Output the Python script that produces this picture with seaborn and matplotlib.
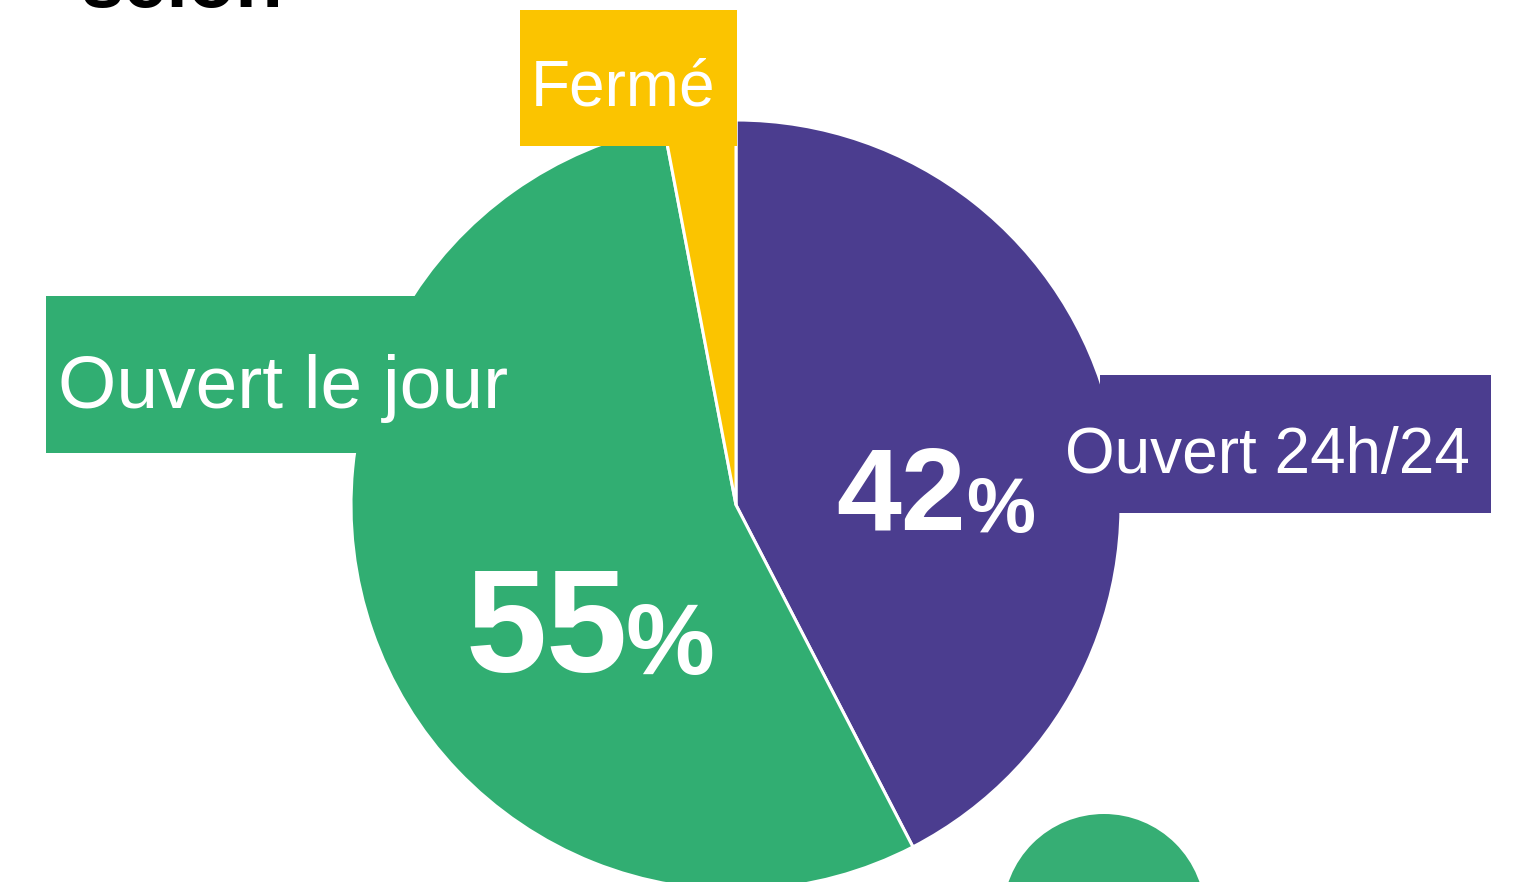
import matplotlib
matplotlib.use("Agg")
import matplotlib.pyplot as plt
from matplotlib.patches import Rectangle, Circle
import seaborn as sns

# data
categories = ["Ouvert 24h/24", "Ouvert le jour", "Fermé"]
shares = [42.4, 54.6, 3.0]
pct_labels = ["42", "55", None]
colors = ["#4B3D8F", "#31AE72", "#FBC400"]
title_text = "selon"

sns.set_theme(style="white")
plt.rcParams["font.family"] = ["Liberation Sans", "DejaVu Sans"]

W, H = 1518, 882
fig = plt.figure(figsize=(W / 100, H / 100), dpi=100)
ax = fig.add_axes([0, 0, 1, 1])

# pie in pixel-like coordinates (y axis flipped, so counterclock here is clockwise on screen)
ax.pie(shares, colors=colors, center=(736, 505), radius=385, startangle=-90,
       counterclock=True,
       wedgeprops=dict(edgecolor="white", linewidth=2.2), frame=True)
ax.set_xlim(0, W)
ax.set_ylim(H, 0)
ax.set_aspect("equal")
ax.axis("off")

# category label boxes
boxes = {
    "Ouvert 24h/24": (1100, 375, 391, 138, 1065, 473, 46),
    "Ouvert le jour": (46, 296, 480, 157, 58, 408, 54),
    "Fermé": (520, 10, 217, 136, 531, 106, 46),
}
for cat, col in zip(categories, colors):
    x0, y0, bw, bh, tx, ty, fs = boxes[cat]
    ax.add_patch(Rectangle((x0, y0), bw, bh, facecolor=col, edgecolor="none", zorder=5))
    ax.text(tx, ty, cat, color="white", fontsize=fs, ha="left", va="baseline", zorder=6)

# big percentages
pct_pos = {"42": (836, 530, 84, 966, 56), "55": (466, 672, 105, 626, 72)}
for lab in pct_labels:
    if lab is None:
        continue
    x, y, fs, px, pfs = pct_pos[lab]
    ax.text(x, y, lab, color="white", fontsize=fs, fontweight="bold",
            ha="left", va="baseline", zorder=7)
    ax.text(px, y + 2, "%", color="white", fontsize=pfs, fontweight="bold",
            ha="left", va="baseline", zorder=7)

# cut-off title and decorative circle
ax.text(80, 7, title_text, color="black", fontsize=56, fontweight="bold",
        ha="left", va="baseline", zorder=8)
ax.add_patch(Circle((1104, 915), 101, facecolor="#36AE74", edgecolor="none", zorder=4))

fig.savefig("out.png", dpi=100)
